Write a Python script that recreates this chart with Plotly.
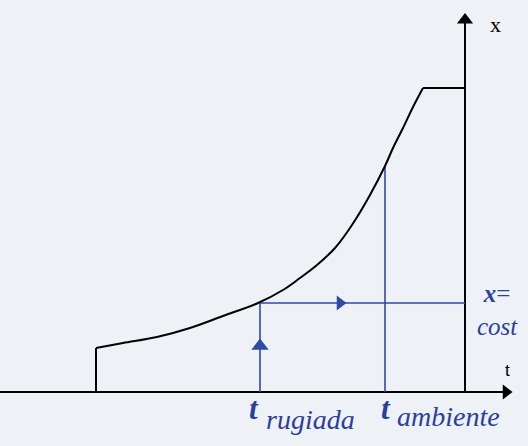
import plotly.graph_objects as go

t_curve = [96, 123, 157, 190, 223, 258, 283, 300, 317, 335, 352, 370, 385, 393, 403, 413, 423]
x_curve = [44, 49, 55, 64, 76, 89, 102, 114, 127, 144, 167, 197, 226, 244, 264, 285, 304]
t_start = [96, 96]
x_start = [0, 44]
t_plateau = [423, 465]
x_plateau = [304, 304]

t_axis_pos = 465   # position of the x axis along t
t_rugiada = 260
x_rugiada = 89
t_ambiente = 385
x_ambiente = 226

BLUE = "#2f4aa6"
TXT = "#2b3f9c"

fig = go.Figure()

# axes
fig.add_trace(go.Scatter(x=[0, 504], y=[0, 0], mode="lines", line=dict(color="black", width=2), hoverinfo="skip"))
fig.add_trace(go.Scatter(x=[t_axis_pos, t_axis_pos], y=[0, 372], mode="lines", line=dict(color="black", width=2), hoverinfo="skip"))
fig.add_trace(go.Scatter(x=[506], y=[0], mode="markers", marker=dict(symbol="triangle-right", size=13, color="black"), hoverinfo="skip"))
fig.add_trace(go.Scatter(x=[t_axis_pos], y=[372], mode="markers", marker=dict(symbol="triangle-up", size=14, color="black"), hoverinfo="skip"))

# blue construction lines
fig.add_trace(go.Scatter(x=[t_rugiada, t_rugiada, t_axis_pos], y=[0, x_rugiada, x_rugiada], mode="lines", line=dict(color=BLUE, width=1.6), hoverinfo="skip"))
fig.add_trace(go.Scatter(x=[t_ambiente, t_ambiente], y=[0, x_ambiente], mode="lines", line=dict(color=BLUE, width=1.6), hoverinfo="skip"))
fig.add_trace(go.Scatter(x=[t_rugiada], y=[46], mode="markers", marker=dict(symbol="triangle-up", size=15, color=BLUE), hoverinfo="skip"))
fig.add_trace(go.Scatter(x=[340], y=[x_rugiada], mode="markers", marker=dict(symbol="triangle-right", size=13, color=BLUE), hoverinfo="skip"))

# curve
fig.add_trace(go.Scatter(x=t_start, y=x_start, mode="lines", line=dict(color="black", width=2), hoverinfo="skip"))
fig.add_trace(go.Scatter(x=t_curve, y=x_curve, mode="lines", line=dict(color="black", width=2, shape="spline", smoothing=1.0), hoverinfo="skip"))
fig.add_trace(go.Scatter(x=t_plateau, y=x_plateau, mode="lines", line=dict(color="black", width=2), hoverinfo="skip"))

ann = [
    dict(x=495, y=368, text="x", font=dict(family="Liberation Serif", size=22, color="black")),
    dict(x=507, y=22, text="t", font=dict(family="Liberation Sans", size=17, color="black")),
    dict(x=254, y=-16, text="<b><i>t</i></b>", font=dict(family="Liberation Serif", size=31, color=TXT)),
    dict(x=310, y=-27, text="<i>rugiada</i>", font=dict(family="Liberation Serif", size=28, color=TXT)),
    dict(x=386, y=-16, text="<b><i>t</i></b>", font=dict(family="Liberation Serif", size=31, color=TXT)),
    dict(x=448, y=-24, text="<i>ambiente</i>", font=dict(family="Liberation Serif", size=28, color=TXT)),
    dict(x=497, y=82, text="<b><i>x</i></b>=<br><i>cost</i>", font=dict(family="Liberation Serif", size=25, color=TXT)),
]
for a in ann:
    fig.add_annotation(xref="x", yref="y", showarrow=False, xanchor="center", yanchor="middle", **a)

fig.update_layout(
    width=528, height=446,
    margin=dict(l=0, r=0, t=0, b=0),
    paper_bgcolor="#eef1f6", plot_bgcolor="#eef1f6",
    showlegend=False,
    hovermode=False,
    xaxis=dict(range=[0, 528], visible=False, fixedrange=True),
    yaxis=dict(range=[-54, 392], visible=False, fixedrange=True),
)
fig.write_html("out.html", config={"displayModeBar": False, "staticPlot": True},
               post_script="document.body.style.margin='0';document.body.style.overflow='hidden';")
